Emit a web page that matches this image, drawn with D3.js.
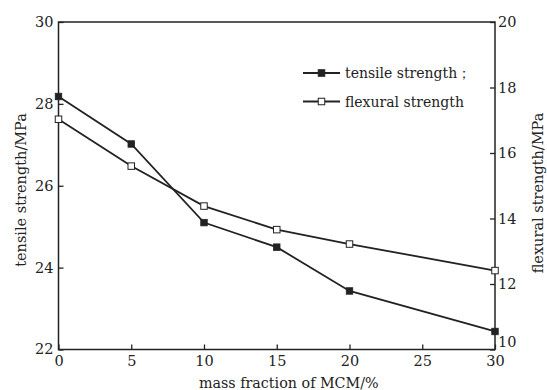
<!DOCTYPE html>
<html><head><meta charset="utf-8">
<script src="https://cdn.jsdelivr.net/npm/d3@7"></script>
<style>body{margin:0;background:#fff;}svg{display:block;}</style>
</head><body>
<script>
const xValues = [0, 5, 10, 15, 20, 30];
const tensile = [28.18, 27.02, 25.10, 24.50, 23.43, 22.44];
const flexural = [17.03, 15.60, 14.38, 13.66, 13.22, 12.41];
const xTicks = [0, 5, 10, 15, 20, 25, 30];
const leftTicks = [22, 24, 26, 28, 30];
const rightTicks = [10, 12, 14, 16, 18, 20];
const legendLabels = ["tensile strength\uFF1B", "flexural strength"];

const W = 547, H = 390;
const FONT = "DejaVu Serif";
const m = {l: 58.5, r: 52, t: 22, b: 40.5};
const svg = d3.select("body").append("svg").attr("width", W).attr("height", H)
  .attr("font-family", FONT);
const x = d3.scaleLinear().domain([0, 30]).range([m.l, W - m.r]);
const yL = d3.scaleLinear().domain([22, 30]).range([H - m.b, m.t]);
const yR = d3.scaleLinear().domain([10, 20]).range([H - m.b, m.t]);
const col = "#222";

svg.append("rect").attr("x", m.l).attr("y", m.t).attr("width", x(30) - m.l).attr("height", yL(22) - m.t)
  .attr("fill", "none").attr("stroke", col).attr("stroke-width", 1.5);

const fs = "14.5px";
const ax = svg.append("g").attr("transform", `translate(0,${yL(22)})`)
  .call(d3.axisBottom(x).tickValues(xTicks).tickSize(-5).tickPadding(6).tickFormat(d3.format("d")));
const ay = svg.append("g").attr("transform", `translate(${m.l},0)`)
  .call(d3.axisLeft(yL).tickValues(leftTicks).tickSize(-5).tickPadding(5).tickFormat(d3.format("d")));
const ar = svg.append("g").attr("transform", `translate(${x(30)},0)`)
  .call(d3.axisRight(yR).tickValues(rightTicks).tickSize(-5).tickPadding(3).tickFormat(d3.format("d")));
[ax, ay, ar].forEach(g => {
  g.attr("font-family", FONT).attr("font-size", null);
  g.select(".domain").remove();
  g.selectAll("line").attr("stroke", col).attr("stroke-width", 1.3);
  g.selectAll("text").attr("fill", col).attr("font-family", FONT).style("font-size", fs);
});
// bottom right-axis label sits slightly raised, as in the reference
ar.selectAll(".tick").filter(d => d === 10).select("text").attr("y", -8);
ay.selectAll(".tick").filter(d => d === 22).select("text").attr("y", -1);

const lineL = d3.line().x((d, i) => x(xValues[i])).y(d => yL(d));
const lineR = d3.line().x((d, i) => x(xValues[i])).y(d => yR(d));
svg.append("path").datum(tensile).attr("d", lineL).attr("fill", "none").attr("stroke", col).attr("stroke-width", 1.8);
svg.append("path").datum(flexural).attr("d", lineR).attr("fill", "none").attr("stroke", col).attr("stroke-width", 1.8);
const s = 6.5;
svg.selectAll(".mt").data(tensile).enter().append("rect")
  .attr("x", (d, i) => x(xValues[i]) - s / 2).attr("y", d => yL(d) - s / 2)
  .attr("width", s).attr("height", s).attr("fill", col).attr("stroke", col).attr("stroke-width", 0.8);
svg.selectAll(".mf").data(flexural).enter().append("rect")
  .attr("x", (d, i) => x(xValues[i]) - s / 2).attr("y", d => yR(d) - s / 2)
  .attr("width", s).attr("height", s).attr("fill", "#fff").attr("stroke", col).attr("stroke-width", 1);

// legend
const lg = svg.append("g");
legendLabels.forEach((t, i) => {
  const yy = 73 + i * 28.5;
  lg.append("line").attr("x1", 303).attr("x2", 340).attr("y1", yy).attr("y2", yy).attr("stroke", col).attr("stroke-width", 1.8);
  lg.append("rect").attr("x", 321.5 - s / 2).attr("y", yy - s / 2).attr("width", s).attr("height", s)
    .attr("fill", i === 0 ? col : "#fff").attr("stroke", col).attr("stroke-width", 1);
  lg.append("text").attr("x", 345).attr("y", yy + 5).text(t).attr("fill", col)
    .attr("font-family", FONT).style("font-size", "14px");
});

svg.append("text").attr("x", (m.l + x(30)) / 2 + 12).attr("y", 388).attr("text-anchor", "middle")
  .text("mass fraction of MCM/%").attr("fill", col).attr("font-family", FONT).style("font-size", "14.3px");
svg.append("text").attr("transform", `translate(26,190) rotate(-90)`).attr("text-anchor", "middle")
  .text("tensile strength/MPa").attr("fill", col).attr("font-family", FONT).style("font-size", "14.5px");
svg.append("text").attr("transform", `translate(543,193) rotate(-90)`).attr("text-anchor", "middle")
  .text("flexural strength/MPa").attr("fill", col).attr("font-family", FONT).style("font-size", "14.5px");
</script>
</body></html>
